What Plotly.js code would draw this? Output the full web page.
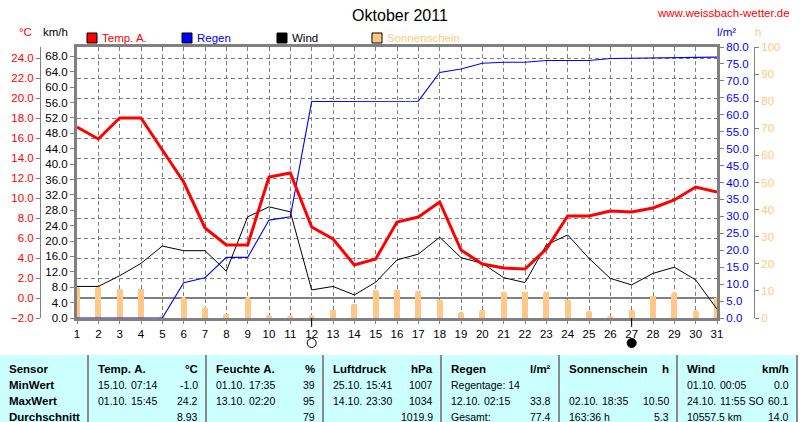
<!DOCTYPE html>
<html><head><meta charset="utf-8">
<script src="https://cdn.plot.ly/plotly-3.0.1.min.js"></script>
<style>html,body{margin:0;padding:0;background:#fff}</style>
</head><body><div id="chart" style="width:800px;height:422px"></div>
<script>
// ---- data ----
const days = [1,2,3,4,5,6,7,8,9,10,11,12,13,14,15,16,17,18,19,20,21,22,23,24,25,26,27,28,29,30,31];
const tempA = [17.1,15.9,18.0,18.0,14.8,11.6,7.0,5.3,5.3,12.1,12.5,7.1,5.9,3.3,3.9,7.6,8.1,9.6,4.8,3.4,3.0,2.9,4.9,8.2,8.2,8.7,8.6,9.0,9.8,11.1,10.6];
const regen = [0,0,0,0,0,10.4,11.9,17.9,17.9,28.9,29.9,63.9,63.9,63.9,64.0,64.0,64.0,72.5,73.5,75.2,75.5,75.5,76.0,76.0,76.0,76.6,76.7,76.7,77.0,77.0,77.0];
const wind = [8.2,8.2,11.0,14.2,18.7,17.5,17.5,12.2,26.3,28.9,27.6,7.3,8.2,6.0,9.3,15.1,16.6,21.0,15.7,14.2,10.5,9.2,19.0,21.6,15.5,10.3,8.6,11.6,13.2,9.9,2.3];
const sonne = [11.4,11.7,10.8,10.8,1.0,7.6,3.9,1.6,7.7,1.0,1.0,1.0,3.1,5.3,10.5,10.5,10.1,6.8,2.1,3.1,9.7,9.7,9.7,6.8,2.5,0.9,3.1,8.2,9.5,2.8,7.6];
const moonDays = [12, 27];
const moonFilled = [false, true];

const tempTicks = [-2,0,2,4,6,8,10,12,14,16,18,20,22,24];
const windTicks = [0,4,8,12,16,20,24,28,32,36,40,44,48,52,56,60,64,68];
const rainTicks = [0,5,10,15,20,25,30,35,40,45,50,55,60,65,70,75,80];
const sunTicks = [0,10,20,30,40,50,60,70,80,90,100];

const seriesNames = ['Temp. A.','Regen','Wind','Sonnenschein'];
const seriesColors = ['#FF0000','#0000FF','#000000','#FFC880'];
const unitLabels = ['°C','km/h','l/m²','h'];

const tableHeaders = ['Sensor','Temp. A.','Feuchte A.','Luftdruck','Regen','Sonnenschein','Wind'];
const tableUnits = ['','°C','%','hPa','l/m²','h','km/h'];
const rowLabels = ['MinWert','MaxWert','Durchschnitt'];
const colLeft = [
  null,
  ['15.10.  07:14','01.10.  15:45',''],
  ['01.10.  17:35','13.10.  02:20',''],
  ['25.10.  15:41','14.10.  23:30',''],
  ['Regentage: 14','12.10.  02:15','Gesamt:'],
  ['','02.10.  18:35','163:36 h'],
  ['01.10.  00:05','24.10.  11:55 SO','10557.5 km']
];
const colRight = [
  null,
  ['-1.0','24.2','8.93'],
  ['39','95','79'],
  ['1007','1034','1019.9'],
  ['','33.8','77.4'],
  ['','10.50','5.3'],
  ['0.0','60.1','14.0']
];

// ---- layout helpers ----
const W = 800, H = 422;
const px = v => v / W;
const py = v => 1 - v / H;
const FONT = 'Liberation Sans, Arial, sans-serif';
const GRAY = '#808080';
const nb = s => s.replace(/ /g, '\u00a0');

const traces = [
  {type:'bar', x: days, y: sonne, yaxis:'y', marker:{color:'#FFC888', cornerradius:3, line:{width:0}}, width:0.28, hoverinfo:'skip'},
  {type:'scatter', mode:'lines', x: days, y: regen, yaxis:'y2', line:{color:'#0000FF', width:1.1}},
  {type:'scatter', mode:'lines', x: days, y: wind, yaxis:'y3', line:{color:'#000000', width:1}},
  {type:'scatter', mode:'lines', x: days, y: tempA, yaxis:'y4', line:{color:'#FF0000', width:3}}
];

const dom = [py(318), py(47)];
const tickFont = c => ({family: FONT, size: 11.5, color: c});

const layout = {
  width: W, height: H,
  margin: {l:0, r:0, t:0, b:0},
  paper_bgcolor: '#fff', plot_bgcolor: '#fff',
  showlegend: false,
  bargap: 0,
  title: {text: 'Oktober 2011', font:{family: FONT, size:16, color:'#000'}, x:0.5, xanchor:'center', xref:'paper', y: py(15), yanchor:'middle', yref:'container'},
  xaxis: {
    domain: [px(77), px(717)], range: [1, 31], tickvals: days, ticktext: days.map(String),
    showgrid: true, gridcolor: GRAY, gridwidth: 1, griddash: '4px,3px',
    showline: true, mirror: true, linecolor: GRAY, linewidth: 3,
    ticks: 'outside', ticklen: 3, tickcolor: GRAY, tickfont: tickFont('#000'), zeroline: false, fixedrange: true
  },
  yaxis: {
    domain: dom, range: [0, 100], tickvals: sunTicks, side: 'right', anchor: 'free', position: px(754),
    showgrid: false, zeroline: false, showline: true, linecolor: GRAY, linewidth: 1,
    ticks: 'outside', ticklen: 4, tickcolor: GRAY, tickfont: tickFont('#FFC880')
  },
  yaxis2: {
    overlaying: 'y', range: [0, 80], tickvals: rainTicks, tickformat: '.1f', side: 'right', anchor: 'x',
    showgrid: false, zeroline: false, showline: true, linecolor: GRAY, linewidth: 3,
    ticks: 'outside', ticklen: 4, tickcolor: GRAY, tickfont: tickFont('#0000FF')
  },
  yaxis3: {
    overlaying: 'y', range: [0, 70.45], tickvals: windTicks, tickformat: '.1f', side: 'left', anchor: 'x',
    showgrid: false, zeroline: false, showline: true, linecolor: GRAY, linewidth: 3,
    ticks: 'outside', ticklen: 4, tickcolor: GRAY, tickfont: tickFont('#000')
  },
  yaxis4: {
    overlaying: 'y', range: [-2, 25.1], tickvals: tempTicks, tickformat: '.1f', side: 'left', anchor: 'free', position: px(40),
    showgrid: true, gridcolor: GRAY, gridwidth: 1, griddash: '4px,3px',
    zeroline: true, zerolinecolor: GRAY, zerolinewidth: 2.5,
    showline: true, linecolor: GRAY, linewidth: 1,
    ticks: 'outside', ticklen: 4, tickcolor: GRAY, tickfont: tickFont('#FF0000')
  },
  shapes: [], annotations: []
};

// url
layout.annotations.push({xref:'paper', yref:'paper', x: px(792), y: py(13), xanchor:'right', yanchor:'middle', showarrow:false,
  text:'www.weissbach-wetter.de', font:{family:FONT, size:11.5, color:'#FF0000'}});

// unit labels
const unitPos = [25, 55, 726, 758];
const unitColors = ['#FF0000','#000000','#0000FF','#FFC880'];
unitLabels.forEach((u,i) => layout.annotations.push({xref:'paper', yref:'paper', x: px(unitPos[i]), y: py(32), xanchor:'center', yanchor:'middle', showarrow:false,
  text:u, font:{family:FONT, size:11.5, color:unitColors[i]}}));

// legend
const legX = [87, 182, 277, 372];
seriesNames.forEach((n,i) => {
  layout.shapes.push({type:'rect', xref:'paper', yref:'paper', x0: px(legX[i]), x1: px(legX[i]+10), y0: py(43), y1: py(33),
    fillcolor: seriesColors[i], line:{color:'#000', width:1}});
  layout.annotations.push({xref:'paper', yref:'paper', x: px(legX[i]+13), y: py(38), xanchor:'left', yanchor:'middle', showarrow:false,
    text:n, font:{family:FONT, size:11.5, color: seriesColors[i]}});
});

// moon phase markers
moonDays.forEach((d,i) => {
  layout.shapes.push({type:'line', xref:'x', yref:'paper', x0:d, x1:d, y0: py(318), y1: py(327), line:{color:'#000', width:1}});
  layout.shapes.push({type:'circle', xref:'x', yref:'paper', xsizemode:'pixel', ysizemode:'pixel', xanchor:d, yanchor: py(343),
    x0:-4.5, x1:4.5, y0:-4.5, y1:4.5, fillcolor: moonFilled[i] ? '#000' : '#fff', line:{color:'#000', width:1}});
});

// table
const tableTop = 355;
layout.shapes.push({type:'rect', xref:'paper', yref:'paper', x0:0, x1:px(798), y0:0, y1:py(tableTop), fillcolor:'#CCFFFF', line:{width:0}, layer:'below'});
const seps = [88, 206, 323, 441, 559, 677, 797];
seps.forEach(s => layout.shapes.push({type:'line', xref:'paper', yref:'paper', x0:px(s), x1:px(s), y0:0, y1:py(tableTop), line:{color:'#8a8a8a', width:2}}));
const rowY = [369, 385, 401, 416.5];
const tFont = (b) => ({family: FONT, size: b ? 11.5 : 10.5, color:'#000', weight: b ? 'bold' : 'normal'});
const ann = (x, y, t, anchor, bold) => layout.annotations.push({xref:'paper', yref:'paper', x:px(x), y:py(y), xanchor:anchor, yanchor:'middle',
  showarrow:false, text: nb(t), font: tFont(bold)});
ann(7, rowY[0], tableHeaders[0], 'left', true);
rowLabels.forEach((r,i) => ann(7, rowY[i+1], r, 'left', true));
for (let c = 1; c < tableHeaders.length; c++) {
  const left = seps[c-1] + 8, right = seps[c] - 6;
  ann(left, rowY[0], tableHeaders[c], 'left', true);
  ann(right, rowY[0], tableUnits[c], 'right', true);
  for (let r = 0; r < 3; r++) {
    const txt = colLeft[c][r];
    if (txt) {
      const parts = txt.split('  ');
      ann(left, rowY[r+1], parts[0], 'left', false);
      if (parts[1]) ann(left + 33, rowY[r+1], parts[1], 'left', false);
    }
    if (colRight[c][r]) ann(right, rowY[r+1], colRight[c][r], 'right', false);
  }
}

Plotly.newPlot('chart', traces, layout, {staticPlot:true, displayModeBar:false});
</script></body></html>
